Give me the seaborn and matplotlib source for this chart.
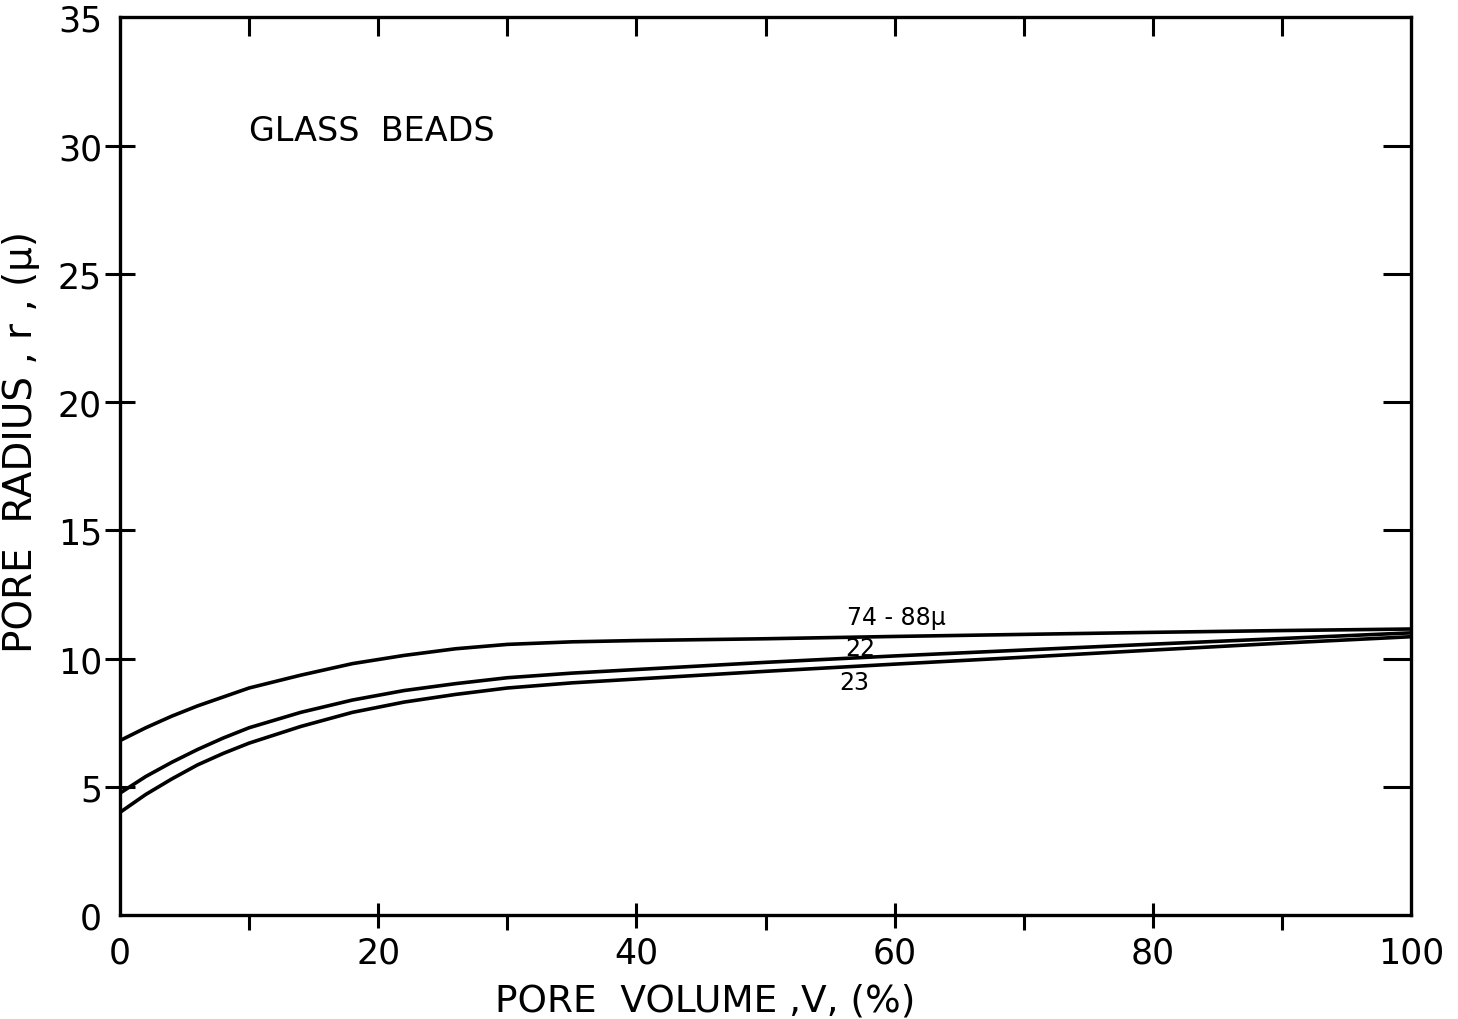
import numpy as np
import pandas as pd
import matplotlib
matplotlib.use("Agg")
import matplotlib.pyplot as plt
import seaborn as sns

# Pore volume (%) sample positions
pore_volume = [0, 2, 4, 6, 8, 10, 14, 18, 22, 26, 30, 35, 40, 50, 60, 70, 80, 90, 100]
# Pore radius (micron) for each bead sample
radius_74_88 = [6.8, 7.3, 7.75, 8.15, 8.5, 8.85, 9.35, 9.8, 10.12, 10.38, 10.55, 10.65,
                10.7, 10.77, 10.86, 10.94, 11.02, 11.09, 11.15]
radius_22 = [4.75, 5.4, 5.95, 6.45, 6.9, 7.3, 7.9, 8.38, 8.75, 9.02, 9.25, 9.43,
             9.57, 9.85, 10.1, 10.33, 10.56, 10.78, 11.0]
radius_23 = [4.0, 4.7, 5.3, 5.85, 6.3, 6.7, 7.35, 7.9, 8.3, 8.6, 8.85, 9.05,
             9.2, 9.5, 9.78, 10.05, 10.33, 10.6, 10.85]

series_names = ["74-88", "22", "23"]
series_labels = ["74 - 88μ", "22", "23"]
label_x = [60.1, 57.3, 56.9]
label_y = [11.6, 10.42, 9.1]

x_ticks = [0, 20, 40, 60, 80, 100]
y_ticks = [0, 5, 10, 15, 20, 25, 30, 35]

df = pd.DataFrame({
    "volume": pore_volume * 3,
    "radius": radius_74_88 + radius_22 + radius_23,
    "sample": [series_names[0]] * len(pore_volume)
              + [series_names[1]] * len(pore_volume)
              + [series_names[2]] * len(pore_volume),
})

sns.set_style("ticks")
plt.rcParams["font.family"] = ["DejaVu Sans"]
plt.rcParams["text.color"] = "black"
plt.rcParams["axes.labelcolor"] = "black"
plt.rcParams["xtick.color"] = "black"
plt.rcParams["ytick.color"] = "black"

fig = plt.figure(figsize=(14.58, 10.2), dpi=100)
ax = fig.add_axes([0.0823, 0.102, 0.8855, 0.880])

sns.lineplot(data=df, x="volume", y="radius", hue="sample",
             palette=["black"] * 3, linewidth=2.6, legend=False, ax=ax)
for ln in ax.get_lines():
    ln.set_solid_capstyle("butt")
    ln.set_solid_joinstyle("round")

ax.set_xlim(0, 100)
ax.set_ylim(0, 35)

for sp in ax.spines.values():
    sp.set_linewidth(2.4)
    sp.set_color("black")

# bottom axis: labelled majors crossing the spine, short outward minors
ax.set_xticks(x_ticks)
ax.set_xticklabels([str(t) for t in x_ticks])
ax.set_xticks([10, 30, 50, 70, 90], minor=True)
ax.tick_params(axis="x", which="major", direction="inout", length=18, width=2.2,
               labelsize=25, pad=6, top=False)
ax.tick_params(axis="x", which="minor", direction="out", length=11, width=2.2, top=False)
xt = ax.xaxis.get_major_ticks()
xt[0].tick1line.set_visible(False)
xt[-1].tick1line.set_visible(False)

# left axis
ax.set_yticks(y_ticks)
ax.set_yticklabels([str(t) for t in y_ticks])
ax.tick_params(axis="y", which="major", direction="inout", length=22, width=2.2,
               labelsize=25, pad=2, right=False)
yt = ax.yaxis.get_major_ticks()
yt[0].tick1line.set_visible(False)
yt[-1].tick1line.set_visible(False)

# top axis: inward ticks every 10
top = ax.secondary_xaxis("top")
top.set_xticks([10, 20, 30, 40, 50, 60, 70, 80, 90])
top.tick_params(direction="in", length=14, width=2.2, labeltop=False)
top.spines["top"].set_visible(False)

# right axis: inward ticks every 5
right = ax.secondary_yaxis("right")
right.set_yticks([5, 10, 15, 20, 25, 30])
right.tick_params(direction="in", length=20, width=2.2, labelright=False)
right.spines["right"].set_visible(False)

ax.set_xlabel("PORE  VOLUME ,V, (%)", fontsize=27)
ax.xaxis.set_label_coords(0.453, -0.075)
ax.set_ylabel("PORE  RADIUS , r , (μ)", fontsize=28)
ax.yaxis.set_label_coords(-0.062, 0.528)

ax.text(10.0, 30.6, "GLASS  BEADS", fontsize=24, ha="left", va="center")

for lab, lx, ly in zip(series_labels, label_x, label_y):
    ax.text(lx, ly, lab, fontsize=17, ha="center", va="center")

fig.savefig("out.png", dpi=100, facecolor="white")
